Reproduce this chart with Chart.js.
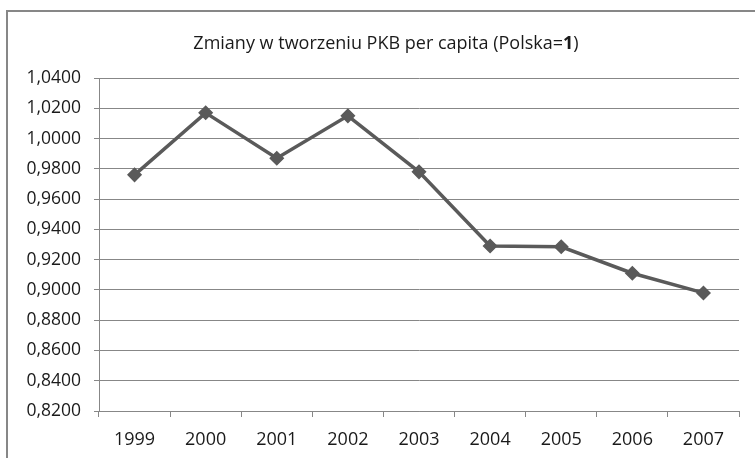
<!DOCTYPE html>
<html>
<head>
<meta charset="utf-8">
<script src="https://cdn.jsdelivr.net/npm/chart.js@4.4.1/dist/chart.umd.min.js"></script>
<style>
  html, body { margin: 0; padding: 0; background: #fff; overflow: hidden; }
  #wrap { position: relative; width: 755px; height: 458px; }
  #frame { position: absolute; left: 6px; top: 10px; width: 800px; height: 500px; border: 2px solid #878787; }
  canvas { position: absolute; left: 0; top: 0; }
</style>
</head>
<body>
<div id="wrap">
  <div id="frame"></div>
  <canvas id="chart" width="755" height="458"></canvas>
</div>
<script>
const years = ["1999", "2000", "2001", "2002", "2003", "2004", "2005", "2006", "2007"];
const ratio = [0.976, 1.017, 0.987, 1.015, 0.978, 0.929, 0.9285, 0.911, 0.898];
const titleParts = ["Zmiany w tworzeniu PKB per capita (Polska=", "1", ")"];
const yMin = 0.82, yMax = 1.04, yStep = 0.02;

const FONT = "'Open Sans', 'Liberation Sans', sans-serif";

// title with the bold "1", like in the original
const titlePlugin = {
  id: "mixedTitle",
  afterDraw(chart) {
    const ctx = chart.ctx;
    ctx.save();
    ctx.textBaseline = "middle";
    ctx.fillStyle = "#1a1a1a";
    const fonts = ["normal 18px " + FONT, "bold 18px " + FONT, "normal 18px " + FONT];
    let total = 0;
    const widths = titleParts.map((t, i) => {
      ctx.font = fonts[i];
      const w = ctx.measureText(t).width;
      total += w;
      return w;
    });
    let x = 386 - total / 2;
    titleParts.forEach((t, i) => {
      ctx.font = fonts[i];
      ctx.fillText(t, x, 44);
      x += widths[i];
    });
    ctx.restore();
  }
};

new Chart(document.getElementById("chart"), {
  type: "line",
  data: {
    labels: years,
    datasets: [{
      data: ratio,
      borderColor: "#5a5a5a",
      borderWidth: 3.5,
      pointStyle: "rectRot",
      pointRadius: 6.5,
      pointBorderWidth: 1.5,
      pointBackgroundColor: "#5a5a5a",
      pointBorderColor: "#5a5a5a",
      tension: 0
    }]
  },
  options: {
    responsive: false,
    animation: false,
    layout: { padding: { top: 78, right: 16, left: 0, bottom: 0 } },
    plugins: {
      legend: { display: false },
      tooltip: { enabled: false }
    },
    scales: {
      x: {
        offset: true,
        grid: { offset: true, drawOnChartArea: false, color: "#878787", tickLength: 6 },
        border: { color: "#878787" },
        ticks: { color: "#1a1a1a", font: { family: FONT, size: 18 }, padding: 12 },
        afterFit(scale) { scale.height = 47; }
      },
      y: {
        min: yMin,
        max: yMax,
        grid: { color: "#878787", tickLength: 5 },
        border: { color: "#878787" },
        ticks: {
          stepSize: yStep,
          color: "#1a1a1a",
          font: { family: FONT, size: 17.5 },
          padding: 13,
          callback: v => v.toFixed(4).replace(".", ",")
        },
        afterFit(scale) { scale.width = 99; }
      }
    }
  },
  plugins: [titlePlugin]
});
</script>
</body>
</html>
